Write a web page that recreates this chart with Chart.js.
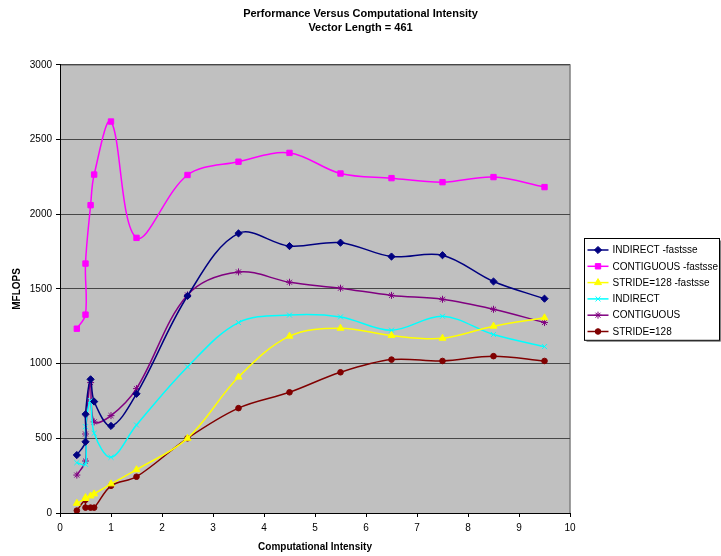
<!DOCTYPE html>
<html>
<head>
<meta charset="utf-8">
<script src="https://cdn.jsdelivr.net/npm/chart.js@4.4.1/dist/chart.umd.min.js"></script>
<style>
  html, body { margin: 0; padding: 0; background: #fff; }
  #wrap { width: 721px; height: 556px; }
</style>
</head>
<body>
<div id="wrap"><canvas id="c" width="721" height="556"></canvas></div>
<script>
// Computational intensity (x) shared by every run
const intensity = [0.33, 0.5, 0.5, 0.6, 0.67, 1, 1.5, 2.5, 3.5, 4.5, 5.5, 6.5, 7.5, 8.5, 9.5];

// MFLOPS per run
const indirectFastsse   = [388, 477, 661, 895, 746, 583, 798, 1453, 1872, 1787, 1810, 1717, 1726, 1550, 1435];
const contiguousFastsse = [1234, 1328, 1670, 2061, 2266, 2621, 1842, 2263, 2352, 2411, 2273, 2242, 2215, 2249, 2182];
const strideFastsse     = [65, 97, 103, 114, 128, 195, 290, 500, 910, 1184, 1237, 1188, 1170, 1251, 1307];
const indirect          = [337, 326, 578, 753, 534, 373, 589, 978, 1275, 1325, 1313, 1224, 1317, 1195, 1114];
const contiguous        = [254, 348, 529, 873, 610, 652, 833, 1460, 1614, 1545, 1505, 1457, 1431, 1364, 1275];
const stride            = [16, 89, 36, 36, 36, 182, 243, 500, 702, 808, 942, 1027, 1018, 1050, 1018];

const seriesNames = ['INDIRECT -fastsse', 'CONTIGUOUS -fastsse', 'STRIDE=128 -fastsse', 'INDIRECT', 'CONTIGUOUS', 'STRIDE=128'];
const seriesValues = [indirectFastsse, contiguousFastsse, strideFastsse, indirect, contiguous, stride];

const titleLines = ['Performance Versus Computational Intensity', 'Vector Length = 461'];
const xAxisTitle = 'Computational Intensity';
const yAxisTitle = 'MFLOPS';

// Look of each series: colour, marker, marker size
const seriesStyle = [
  { color: '#000080', marker: 'rectRot',  size: 3.6 },
  { color: '#FF00FF', marker: 'rect',     size: 3.8 },
  { color: '#FFFF00', marker: 'triangle', size: 4.0 },
  { color: '#00FFFF', marker: 'crossRot', size: 3.5 },
  { color: '#800080', marker: 'star',     size: 3.5 },
  { color: '#800000', marker: 'circle',   size: 2.8 }
];

const FONT = '"Liberation Sans", Arial, Helvetica, sans-serif';
Chart.defaults.font.family = FONT;
Chart.defaults.font.size = 10;
Chart.defaults.color = '#000';

const datasets = seriesNames.map((name, i) => {
  const st = seriesStyle[i];
  return {
    label: name,
    yAxisID: 'y',
    xAxisID: 'x',
    data: intensity.map((x, k) => ({ x: x, y: seriesValues[i][k] })),
    borderColor: st.color,
    backgroundColor: st.color,
    pointBackgroundColor: st.color,
    pointBorderColor: st.color,
    pointStyle: st.marker,
    pointRadius: st.size,
    pointBorderWidth: 1,
    borderWidth: 1.5,
    tension: 0.35,
    fill: false
  };
});

// Silver plot area with a grey frame on top and right
const plotBackground = {
  id: 'plotBackground',
  beforeDraw(chart) {
    const { ctx, chartArea: a } = chart;
    ctx.save();
    ctx.fillStyle = '#C0C0C0';
    ctx.fillRect(a.left, a.top, a.right - a.left, a.bottom - a.top);
    ctx.strokeStyle = '#808080';
    ctx.lineWidth = 1.5;
    ctx.beginPath();
    ctx.moveTo(a.left, a.top);
    ctx.lineTo(a.right, a.top);
    ctx.lineTo(a.right, a.bottom);
    ctx.stroke();
    ctx.restore();
  }
};

// Framed legend to the right of the plot, each entry a line with its marker
const boxedLegend = {
  id: 'boxedLegend',
  afterDraw(chart) {
    const { ctx, chartArea: a } = chart;
    const sets = chart.data.datasets;
    const rowH = 16.3;
    const w = 135;
    const h = sets.length * rowH + 4;
    const x0 = Math.round(a.right + 14) + 0.5;
    const y0 = Math.round((a.top + a.bottom) / 2 - h / 2) + 0.5;
    ctx.save();
    ctx.fillStyle = '#fff';
    ctx.fillRect(x0, y0, w, h);
    ctx.strokeStyle = '#808080';
    ctx.lineWidth = 1;
    ctx.beginPath();
    ctx.moveTo(x0 + w + 1, y0 + 2);
    ctx.lineTo(x0 + w + 1, y0 + h + 1);
    ctx.lineTo(x0 + 2, y0 + h + 1);
    ctx.stroke();
    ctx.strokeStyle = '#000';
    ctx.strokeRect(x0, y0, w, h);
    ctx.font = '10px ' + FONT;
    ctx.textBaseline = 'middle';
    ctx.textAlign = 'left';
    sets.forEach((ds, i) => {
      const cy = y0 + 11.5 + i * rowH;
      ctx.strokeStyle = ds.borderColor;
      ctx.fillStyle = ds.backgroundColor;
      ctx.lineWidth = 1.5;
      ctx.beginPath();
      ctx.moveTo(x0 + 3, cy);
      ctx.lineTo(x0 + 24, cy);
      ctx.stroke();
      ctx.lineWidth = 1;
      Chart.helpers.drawPoint(ctx, {
        pointStyle: ds.pointStyle,
        radius: ds.pointRadius,
        rotation: 0,
        borderWidth: 1
      }, x0 + 13.5, cy);
      ctx.fillStyle = '#000';
      ctx.fillText(ds.label, x0 + 28, cy + 0.5);
    });
    ctx.restore();
  }
};

new Chart(document.getElementById('c'), {
  type: 'line',
  data: { datasets: datasets },
  options: {
    responsive: false,
    animation: false,
    devicePixelRatio: 1,
    layout: { padding: { left: 0, right: 0, top: 0, bottom: 0 } },
    plugins: {
      legend: { display: false },
      tooltip: { enabled: false },
      title: {
        display: true,
        text: titleLines,
        color: '#000',
        font: { size: 11, weight: 'bold', lineHeight: 1.36 },
        padding: { top: 6, bottom: 29 }
      }
    },
    scales: {
      x: {
        type: 'linear',
        min: 0,
        max: 10,
        ticks: { stepSize: 1, padding: 5, color: '#000', font: { size: 10 } },
        grid: { drawOnChartArea: false, drawTicks: true, tickLength: 4, tickColor: '#000' },
        border: { color: '#000', width: 1 },
        title: {
          display: true,
          text: xAxisTitle,
          color: '#000',
          font: { size: 10, weight: 'bold' },
          padding: { top: 4, bottom: 3 }
        },
        afterFit(scale) { scale.height = 43; }
      },
      y: {
        type: 'linear',
        min: 0,
        max: 3000,
        ticks: {
          stepSize: 500,
          padding: 4,
          color: '#000',
          font: { size: 10 },
          callback: (v) => String(v)
        },
        grid: { color: '#474747', lineWidth: 1, tickLength: 4, tickColor: '#000' },
        border: { color: '#000', width: 1 },
        title: {
          display: true,
          text: yAxisTitle,
          color: '#000',
          font: { size: 10, weight: 'bold' },
          padding: { top: 11, bottom: 4 }
        },
        afterFit(scale) { scale.width = 60; }
      },
      // empty right-hand band that keeps room for the legend
      legendBand: {
        type: 'linear',
        position: 'right',
        display: true,
        ticks: { display: false },
        grid: { display: false, drawTicks: false },
        border: { display: false },
        afterFit(scale) { scale.width = 151; }
      }
    }
  },
  plugins: [plotBackground, boxedLegend]
});
</script>
</body>
</html>
